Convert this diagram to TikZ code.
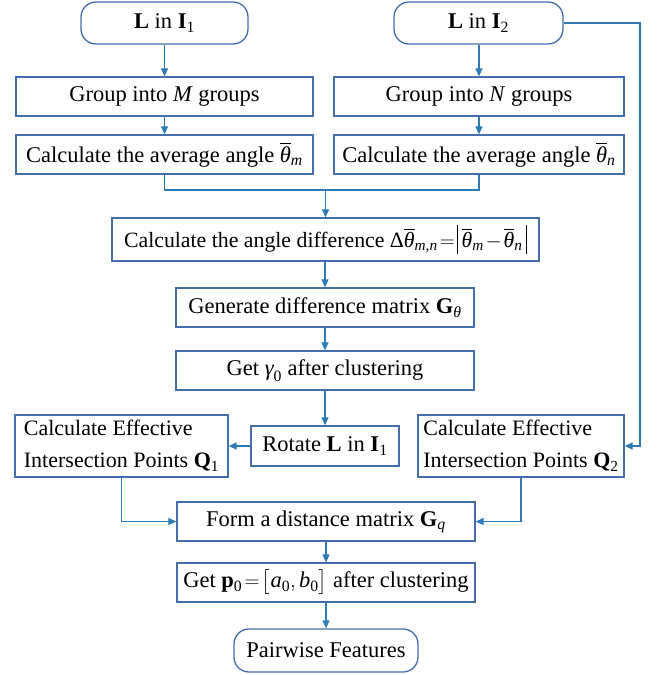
\documentclass[tikz,border=0pt]{standalone}
\usepackage{amsmath}
\usepackage{fontspec}
\setmainfont{Liberation Serif}
\usetikzlibrary{arrows.meta}
\definecolor{boxc}{RGB}{68,110,170}
\definecolor{arrc}{RGB}{46,122,180}
\newcommand{\vi}[1]{\text{\itshape #1}}
\newcommand{\vr}[1]{\text{#1}}
\newcommand{\tbar}{\overline{\vi{θ}}}
\newcommand{\absbar}{\rule[-0.3em]{0.05em}{1.3em}}
\newcommand{\tightmath}{\thickmuskip=2mu\relax\medmuskip=1.5mu\relax}
\begin{document}
\begin{tikzpicture}[x=1pt,y=-1pt,
  box/.style={draw=boxc,line width=1.3pt,inner sep=0pt,minimum height=39pt,
    font=\fontsize{22.5}{26}\selectfont\tightmath},
  rbox/.style={box,rounded corners=15pt},
  arr/.style={draw=arrc,line width=1.2pt,-{Triangle[length=8pt,width=7pt]}},
  ln/.style={draw=arrc,line width=1.2pt}]
\useasboundingbox (0,0) rectangle (659,675);

\node[rbox,minimum width=167pt,minimum height=42pt] (l1) at (164.5,23) {\textbf{L} in \textbf{I}$_{\vr{1}}$};
\node[rbox,minimum width=169pt,minimum height=42pt] (l2) at (478.5,23) {\textbf{L} in \textbf{I}$_{\vr{2}}$};

\node[box,minimum width=297pt] (gm) at (164.5,96.5) {Group into \textit{M} groups};
\node[box,minimum width=290pt] (gn) at (479,96.5) {Group into \textit{N} groups};

\node[box,minimum width=297pt] (am) at (164.5,154.5) {Calculate the average angle $\tbar_{\vi{m}}$};
\node[box,minimum width=290pt] (an) at (479,154.5) {Calculate the average angle $\tbar_{\vi{n}}$};

\node[box,minimum width=427pt,minimum height=43pt,
  font=\fontsize{21.8}{26}\selectfont\tightmath] (ad) at (325.5,239.5)
  {Calculate the angle difference $\vr{Δ}\tbar_{\vi{m,n}}=\absbar\,\tbar_{\vi{m}}-\tbar_{\vi{n}}\,\absbar$};

\node[box,minimum width=298pt] (gen) at (325,307.5) {Generate difference matrix \textbf{G}$_{\vi{θ}}$};
\node[box,minimum width=298pt] (gam) at (325,370.5) {Get $\vi{γ}_{\vr{0}}$ after clustering};

\node[box,minimum width=148pt,minimum height=40pt] (rot) at (325,446) {Rotate \textbf{L} in \textbf{I}$_{\vr{1}}$};

\node[box,minimum width=213pt,minimum height=62pt,align=left,
  font=\fontsize{22}{32}\selectfont] (q1) at (121.5,446)
  {Calculate Effective\\Intersection Points \textbf{Q}$_{\vr{1}}$};
\node[box,minimum width=206pt,minimum height=62pt,align=left,
  font=\fontsize{22}{32}\selectfont] (q2) at (521,446)
  {Calculate Effective\\Intersection Points \textbf{Q}$_{\vr{2}}$};

\node[box,minimum width=298pt] (form) at (326,521.5) {Form a distance matrix \textbf{G}$_{\vi{q}}$};
\node[box,minimum width=298pt] (p0) at (326,582.5)
  {Get \textbf{p}$_{\vr{0}}=\bigl[\vi{a}_{\vr{0}},\vi{b}_{\vr{0}}\bigr]$ after clustering};

\node[rbox,minimum width=184pt,minimum height=43pt] (pf) at (326,650.5) {Pairwise Features};

\coordinate (mL) at (164.5,190);
\coordinate (mR) at (479,190);
\coordinate (mC) at (325.5,190);
\coordinate (rt) at (640,23);
\coordinate (rb) at (640,446);
\coordinate (q1c) at (121.5,521.5);
\coordinate (q2c) at (521,521.5);

\draw[arr] (l1) -- (gm);
\draw[arr] (l2.south -| gn) -- (gn);
\draw[arr] (gm) -- (am);
\draw[arr] (gn) -- (an);
\draw[ln] (am.south) -- (mL) -- (mR) -- (an.south);
\draw[arr] (mC) -- (ad.north);
\draw[arr] (ad.south -| gen) -- (gen);
\draw[arr] (gen) -- (gam);
\draw[arr] (gam) -- (rot);
\draw[arr] (rot) -- (q1);
\draw[arr] (l2.east) -- (rt) -- (rb) -- (q2.east);
\draw[arr] (q1.south) -- (q1c) -- (form.west);
\draw[arr] (q2.south) -- (q2c) -- (form.east);
\draw[arr] (form) -- (p0);
\draw[arr] (p0) -- (pf);
\end{tikzpicture}
\end{document}
